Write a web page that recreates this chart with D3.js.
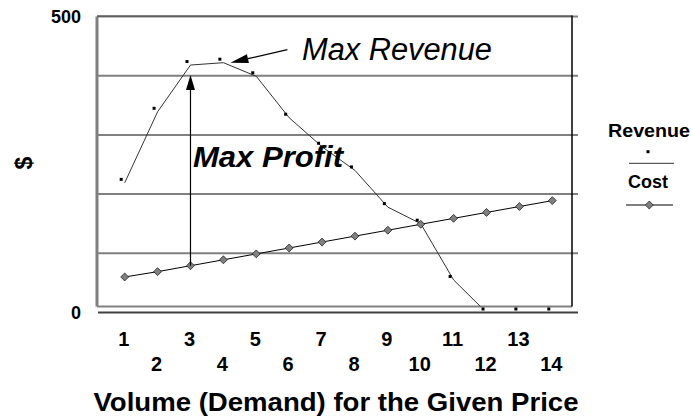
<!DOCTYPE html>
<html>
<head>
<meta charset="utf-8">
<script src="https://cdn.jsdelivr.net/npm/d3@7"></script>
<style>
  body { margin: 0; background: #fff; }
  svg { font-family: "Liberation Sans", Arial, sans-serif; }
</style>
</head>
<body>
<svg width="692" height="418"></svg>
<script>
const volumes = [1, 2, 3, 4, 5, 6, 7, 8, 9, 10, 11, 12, 13, 14]
const revenue = [219, 339, 418, 422, 399, 329, 280, 240, 178, 150, 55, 0, 0, 0]
const cost = [60, 69, 79, 89, 99, 109, 119, 129, 139, 149, 159, 169, 179, 189]
const yTicks = [0, 500]
const gridValues = [100, 200, 300, 400, 500]

const svg = d3.select('svg')

const x = d3.scalePoint()
    .domain(volumes)
    .range([124.7, 552.3])
const y = d3.scaleLinear()
    .domain([0, 500])
    .range([312.5, 16.5])

const frame = {left: 97, right: 572, top: 16.5, back: 306.5, floor: 312.5, outer: 578}

// gridlines
svg.append('g').selectAll('line')
    .data(gridValues)
    .join('line')
    .attr('x1', frame.left).attr('x2', frame.outer)
    .attr('y1', d => y(d)).attr('y2', d => y(d))
    .attr('stroke', '#808080').attr('stroke-width', 2)

// back wall frame
svg.append('line')
    .attr('x1', frame.left).attr('x2', frame.left)
    .attr('y1', frame.top).attr('y2', frame.back)
    .attr('stroke', '#808080').attr('stroke-width', 3)
svg.append('line')
    .attr('x1', frame.left).attr('x2', frame.right)
    .attr('y1', frame.top - 0.5).attr('y2', frame.top - 0.5)
    .attr('stroke', '#404040').attr('stroke-width', 1)
svg.append('line')
    .attr('x1', frame.left).attr('x2', frame.right)
    .attr('y1', frame.back).attr('y2', frame.back)
    .attr('stroke', '#808080').attr('stroke-width', 2)
svg.append('line')
    .attr('x1', frame.right).attr('x2', frame.right)
    .attr('y1', frame.top - 1).attr('y2', frame.back)
    .attr('stroke', '#000').attr('stroke-width', 1.5)
// floor line
svg.append('line')
    .attr('x1', frame.left + 1).attr('x2', frame.outer)
    .attr('y1', frame.floor).attr('y2', frame.floor)
    .attr('stroke', '#404040').attr('stroke-width', 2)

// axes
const yAxis = d3.axisLeft(y).tickValues(yTicks).tickSize(0).tickPadding(16)
svg.append('g')
    .attr('transform', `translate(${frame.left}, 0)`)
    .call(yAxis)
    .call(g => g.select('.domain').remove())
    .selectAll('text')
    .attr('font-family', '"Liberation Sans", Arial, sans-serif')
    .attr('font-size', 18).attr('font-weight', 'bold').attr('fill', '#000')

const xAxis = d3.axisBottom(x).tickSize(0)
svg.append('g')
    .attr('transform', `translate(-1.5, 0)`)
    .call(xAxis)
    .call(g => g.select('.domain').remove())
    .selectAll('text')
    .attr('font-family', '"Liberation Sans", Arial, sans-serif')
    .attr('font-size', 20).attr('font-weight', 'bold').attr('fill', '#000')
    .attr('dy', null)
    .attr('y', d => d % 2 ? 346 : 371)

svg.append('text')
    .attr('x', 336).attr('y', 411)
    .attr('text-anchor', 'middle')
    .attr('font-size', 26).attr('font-weight', 'bold')
    .attr('textLength', 485).attr('lengthAdjust', 'spacingAndGlyphs')
    .text('Volume (Demand) for the Given Price')

svg.append('text')
    .attr('transform', 'translate(32, 163) rotate(-90)')
    .attr('text-anchor', 'middle')
    .attr('font-size', 23).attr('font-weight', 'bold')
    .text('$')

// revenue line, clipped at the back wall
svg.append('clipPath').attr('id', 'wall')
    .append('rect')
    .attr('x', frame.left).attr('y', frame.top)
    .attr('width', frame.right - frame.left).attr('height', frame.back - frame.top)

const revLine = d3.line().x((d, i) => x(volumes[i])).y(d => y(d))
svg.append('path')
    .datum(revenue)
    .attr('clip-path', 'url(#wall)')
    .attr('d', revLine)
    .attr('fill', 'none').attr('stroke', '#333').attr('stroke-width', 1)

svg.append('g')
    .attr('transform', 'translate(-3.5, -3.5)')
    .selectAll('rect')
    .data(revenue)
    .join('rect')
    .attr('x', (d, i) => x(volumes[i]) - 1.5)
    .attr('y', d => y(d) - 1.5)
    .attr('width', 3).attr('height', 3)
    .attr('fill', '#000')

// cost line and diamonds
const costLine = d3.line().x((d, i) => x(volumes[i])).y(d => y(d))
svg.append('path')
    .datum(cost)
    .attr('d', costLine)
    .attr('fill', 'none').attr('stroke', '#000').attr('stroke-width', 1)

const diamond = d3.symbol().type(d3.symbolDiamond2).size(40)
svg.append('g').selectAll('path')
    .data(cost)
    .join('path')
    .attr('transform', (d, i) => `translate(${x(volumes[i])}, ${y(d)})`)
    .attr('d', diamond)
    .attr('fill', '#808080').attr('stroke', '#222').attr('stroke-width', 0.8)

// annotations
function arrow(x1, y1, x2, y2, len, half) {
    const a = Math.atan2(y2 - y1, x2 - x1)
    const bx = x2 - len * Math.cos(a), by = y2 - len * Math.sin(a)
    svg.append('line')
        .attr('x1', x1).attr('y1', y1).attr('x2', bx).attr('y2', by)
        .attr('stroke', '#000').attr('stroke-width', 1.2)
    const px = -Math.sin(a) * half, py = Math.cos(a) * half
    svg.append('path')
        .attr('d', `M${x2},${y2}L${bx + px},${by + py}L${bx - px},${by - py}Z`)
        .attr('fill', '#000')
}

const peak = revenue.indexOf(d3.max(revenue))
arrow(x(volumes[peak]) + 64, y(revenue[peak]) - 13, x(volumes[peak]) + 7, y(revenue[peak]), 18, 4.5)
arrow(x(volumes[2]), y(cost[2]), x(volumes[2]), y(revenue[2]) + 10, 15, 4.5)

svg.append('text')
    .attr('x', 302).attr('y', 60)
    .attr('font-size', 31).attr('font-style', 'italic')
    .attr('textLength', 190).attr('lengthAdjust', 'spacingAndGlyphs')
    .text('Max Revenue')

svg.append('text')
    .attr('x', 193).attr('y', 167)
    .attr('font-size', 29).attr('font-style', 'italic').attr('font-weight', 'bold')
    .attr('textLength', 150).attr('lengthAdjust', 'spacingAndGlyphs')
    .text('Max Profit')

// legend
const legend = svg.append('g').attr('font-size', 18).attr('font-weight', 'bold')
legend.append('text')
    .attr('x', 649).attr('y', 137).attr('text-anchor', 'middle')
    .attr('textLength', 82).attr('lengthAdjust', 'spacingAndGlyphs')
    .text('Revenue')
legend.append('line')
    .attr('x1', 629).attr('x2', 674).attr('y1', 163.3).attr('y2', 163.3)
    .attr('stroke', '#333').attr('stroke-width', 1)
legend.append('rect')
    .attr('x', 646.5).attr('y', 150.2).attr('width', 3).attr('height', 3)
    .attr('fill', '#000')
legend.append('text')
    .attr('x', 648).attr('y', 188).attr('text-anchor', 'middle')
    .text('Cost')
legend.append('line')
    .attr('x1', 626).attr('x2', 673).attr('y1', 205).attr('y2', 205)
    .attr('stroke', '#000').attr('stroke-width', 1)
legend.append('path')
    .attr('transform', 'translate(649.3, 205)')
    .attr('d', diamond)
    .attr('fill', '#808080').attr('stroke', '#222').attr('stroke-width', 0.8)
</script>
</body>
</html>
